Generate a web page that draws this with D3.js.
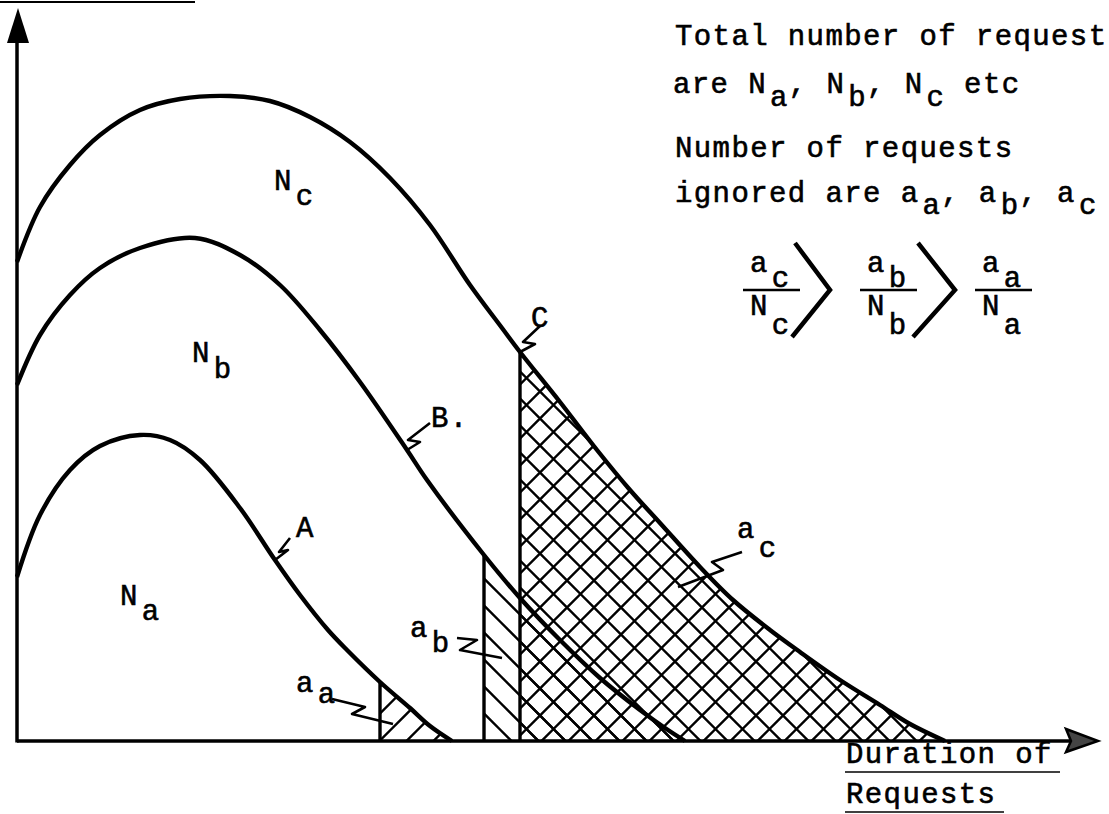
<!DOCTYPE html>
<html>
<head>
<meta charset="utf-8">
<script src="https://cdn.jsdelivr.net/npm/d3@7"></script>
<style>
body { margin: 0; background: #fff; }
svg { display: block; }
text { font-family: "Courier New", "Liberation Mono", monospace; font-size: 29px; letter-spacing: 1.4px; fill: #000; stroke: #000; stroke-width: 0.6px; }
</style>
</head>
<body>
<script>
//Width and height
var w = 1109;
var h = 814;

//Curves: [duration of request, number of requests]
var curveA = [[0,16.4],[2.3,22.6],[5.3,27.1],[8.3,29.5],[12.3,30.6],[15.3,30.1],[18.3,28.1],[22.3,23.3],
    [25.8,18.1],[28.3,14.6],[31.1,11.1],[33.0,9.1],[36.3,5.9],[39.3,3.3],[41.3,1.5],[43.5,0]];
var curveB = [[0,35.6],[2.3,40.6],[5.3,44.6],[8.3,47.3],[12.3,49.3],[17.8,50.3],[22.3,48.6],[26.3,45.6],
    [30.3,41.1],[34.3,35.9],[39.0,29.1],[41.0,26.1],[46.7,18.6],[50.3,14.3],[54.3,10.1],[58.3,6.3],[62.3,3.1],[64.8,1.3],[66.8,0]];
var curveC = [[0,47.9],[2.3,53.4],[5.3,57.6],[8.3,60.6],[12.3,63.1],[16.3,64.2],[21.3,64.5],[25.3,64.0],
    [29.3,62.4],[33.3,59.9],[37.3,56.3],[41.3,51.6],[45.3,45.6],[48.5,41.3],[50.3,38.9],[54.3,33.9],[58.0,29.1],
    [61.3,25.1],[64.3,21.8],[68.3,17.4],[71.6,14.1],[75.3,11.1],[78.3,8.9],[82.3,6.1],[86.3,3.6],[89.3,1.7],[92.8,0]];

//Cut-off durations: requests longer than these are ignored
var cutA = 36.3;
var cutB = 46.7;
var cutC = 50.3;

//Anchor points on the curves for the A, B, C leaders
var anchorA = 25.8;
var anchorB = 39.0;
var anchorC = 50.3;

//Scales
var xScale = d3.scaleLinear().domain([0, 108]).range([17, 1097]);
var yScale = d3.scaleLinear().domain([0, 73]).range([741, 11]);

var line = d3.line()
    .x(d => xScale(d[0]))
    .y(d => yScale(d[1]))
    .curve(d3.curveCatmullRom.alpha(0.5));

var area = d3.area()
    .x(d => xScale(d[0]))
    .y0(yScale(0))
    .y1(d => yScale(d[1]))
    .curve(d3.curveCatmullRom.alpha(0.5));

function yAt(curve, x) {
    return curve.find(d => d[0] === x)[1];
}

//Create SVG element
var svg = d3.select("body")
    .append("svg")
    .attr("width", w)
    .attr("height", h);

var defs = svg.append("defs");

//Hatch patterns ("\" lines, "/" lines, and both)
var back = "M8.5,-5L32,18.5M-5,8.5L18.5,32";
var fwd = "M-5,18.5L18.5,-5M8.5,32L32,8.5";
[["hBack", back], ["hFwd", fwd], ["hCross", back + fwd]].forEach(function(p) {
    defs.append("pattern")
        .attr("id", p[0])
        .attr("patternUnits", "userSpaceOnUse")
        .attr("width", 27)
        .attr("height", 27)
        .append("path")
        .attr("d", p[1])
        .attr("stroke", "#000")
        .attr("stroke-width", 2.3)
        .attr("fill", "none");
});

//Clip regions beyond each cut-off
[["clipA", cutA], ["clipB", cutB], ["clipC", cutC]].forEach(function(c) {
    defs.append("clipPath")
        .attr("id", c[0])
        .append("rect")
        .attr("x", xScale(c[1]))
        .attr("y", 0)
        .attr("width", w)
        .attr("height", h);
});

//Hatched areas of ignored requests
svg.append("path")
    .attr("d", area(curveA))
    .attr("fill", "url(#hFwd)")
    .attr("clip-path", "url(#clipA)");

svg.append("path")
    .attr("d", area(curveB))
    .attr("fill", "url(#hBack)")
    .attr("clip-path", "url(#clipB)");

svg.append("path")
    .attr("d", area(curveC))
    .attr("fill", "url(#hCross)")
    .attr("clip-path", "url(#clipC)");

//Vertical cut-off lines
[[curveA, cutA], [curveB, cutB], [curveC, cutC]].forEach(function(c) {
    svg.append("line")
        .attr("x1", xScale(c[1]))
        .attr("x2", xScale(c[1]))
        .attr("y1", yScale(0))
        .attr("y2", yScale(yAt(c[0], c[1])))
        .attr("stroke", "#000")
        .attr("stroke-width", 3.4);
});

//Curves
[curveA, curveB, curveC].forEach(function(c) {
    svg.append("path")
        .attr("d", line(c))
        .attr("fill", "none")
        .attr("stroke", "#000")
        .attr("stroke-width", 4.4)
        .attr("stroke-linejoin", "round");
});

//Axes
svg.append("line")
    .attr("x1", xScale(0)).attr("x2", xScale(0))
    .attr("y1", yScale(0) + 1.5).attr("y2", 40)
    .attr("stroke", "#000").attr("stroke-width", 3.5);
svg.append("path")
    .attr("d", "M18,8L29,43L7,43Z")
    .attr("fill", "#000");

svg.append("line")
    .attr("x1", xScale(0)).attr("x2", 1070)
    .attr("y1", yScale(0)).attr("y2", yScale(0))
    .attr("stroke", "#000").attr("stroke-width", 3.5);
svg.append("path")
    .attr("d", "M1066,729L1098,741L1066,752L1071,741Z")
    .attr("fill", "#444")
    .attr("stroke", "#000")
    .attr("stroke-width", 2.5);

//Line at the top
svg.append("line")
    .attr("x1", 0).attr("x2", 195)
    .attr("y1", 2).attr("y2", 2)
    .attr("stroke", "#000").attr("stroke-width", 2);

//Leaders (little zig-zags pointing to curves and areas)
function leader(x, y, pts) {
    svg.append("path")
        .attr("d", "M" + pts.map(p => [x + p[0], y + p[1]].join(",")).join("L"))
        .attr("fill", "none")
        .attr("stroke", "#000")
        .attr("stroke-width", 2.6)
        .attr("stroke-linejoin", "round");
}
leader(xScale(anchorA), yScale(yAt(curveA, anchorA)), [[0,0],[13,-10],[4,-8],[15,-22]]);
leader(xScale(anchorB), yScale(yAt(curveB, anchorB)), [[0,0],[13,-8],[1,-10],[23,-27]]);
leader(xScale(anchorC), yScale(yAt(curveC, anchorC)), [[0,0],[15,-8],[3,-10],[20,-26]]);
leader(742, 552, [[0,0],[-30,10],[-19,18],[-64,35]]);
leader(457, 638, [[0,0],[20,2],[3,12],[45,20]]);
leader(332, 699, [[0,0],[33,8],[20,15],[61,25]]);

//Text with subscripts
function label(x, y, parts) {
    var t = svg.append("text").attr("x", x).attr("y", y);
    var drop = 0;
    parts.forEach(function(p) {
        var s = t.append("tspan").text(p[0]);
        var d = p[1] || 0;
        if (d !== drop) {
            s.attr("dy", d - drop);
            if (d > drop) s.attr("dx", 3);
            drop = d;
        }
    });
    return t;
}

label(120, 605, [["N"], ["a", 15]]);
label(192, 362, [["N"], ["b", 16]]);
label(274, 190, [["N"], ["c", 15]]);
label(296, 537, [["A"]]);
label(431, 427, [["B."]]);
label(531, 327, [["C"]]);
label(737, 538, [["a"], ["c", 19]]);
label(410, 637, [["a"], ["b", 15]]);
label(296, 692, [["a"], ["a", 11]]);

//Notes at top right
label(675, 45, [["Total number of requests"]]);
label(673, 93, [["are N"], ["a", 13], [", N"], ["b", 13], [", N"], ["c", 13], [" etc"]]);
label(675, 157, [["Number of requests"]]);
label(675, 202, [["ignored are a"], ["a", 12], [", a"], ["b", 12], [", a"], ["c", 12]]);

//Fractions a/N with ">" between them
function fraction(x, sub) {
    svg.append("line")
        .attr("x1", x - 7).attr("x2", x + 50)
        .attr("y1", 290).attr("y2", 290)
        .attr("stroke", "#000").attr("stroke-width", 2.5);
    label(x, 272, [["a"], [sub, 15]]);
    label(x, 315, [["N"], [sub, 19]]);
}
fraction(750, "c");
fraction(867, "b");
fraction(982, "a");

[[795, 830, 792], [918, 955, 913]].forEach(function(c) {
    svg.append("path")
        .attr("d", "M" + c[0] + ",243L" + c[1] + ",290L" + c[2] + ",337")
        .attr("fill", "none")
        .attr("stroke", "#000")
        .attr("stroke-width", 4.5);
});

//Horizontal axis title, underlined
label(846, 763, [["Duration of"]]);
label(846, 803, [["Requests"]]);
svg.append("line")
    .attr("x1", 845).attr("x2", 1060)
    .attr("y1", 772).attr("y2", 772)
    .attr("stroke", "#000").attr("stroke-width", 1.6);
svg.append("line")
    .attr("x1", 845).attr("x2", 1004)
    .attr("y1", 812).attr("y2", 812)
    .attr("stroke", "#000").attr("stroke-width", 1.6);
</script>
</body>
</html>
